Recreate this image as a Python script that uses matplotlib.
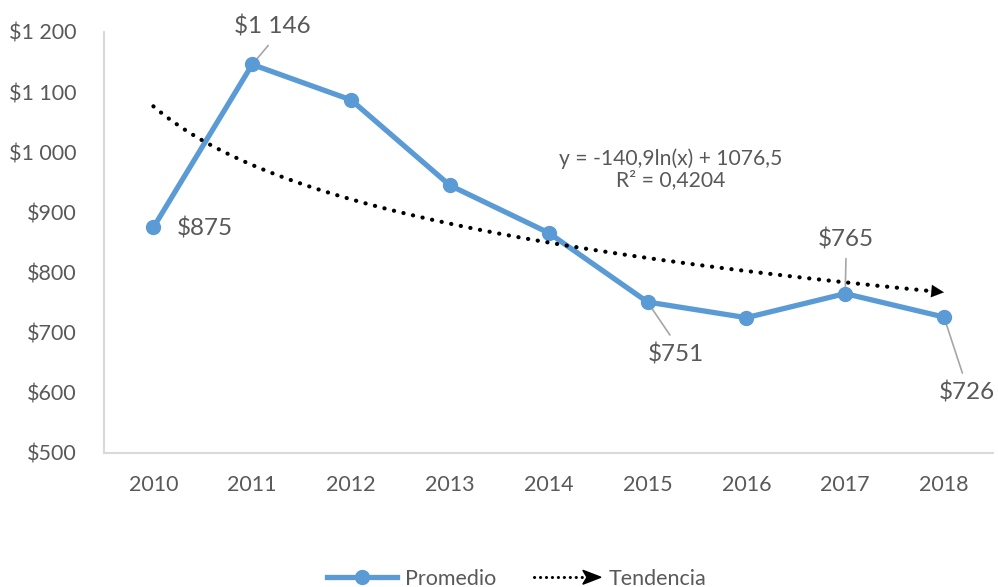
import matplotlib.pyplot as plt
import numpy as np
from matplotlib.lines import Line2D
from matplotlib.patches import Polygon
from matplotlib.legend_handler import HandlerBase

plt.rcParams['font.family'] = ['Lato', 'DejaVu Sans']

years = ['2010', '2011', '2012', '2013', '2014', '2015', '2016', '2017', '2018']
promedio = [875, 1146, 1087, 945, 866, 751, 725, 765, 726]
yticks = [500, 600, 700, 800, 900, 1000, 1100, 1200]
ytick_labels = ['$500', '$600', '$700', '$800', '$900', '$1 000', '$1 100', '$1 200']
# labelled points: index -> (text offset in px, leader line?)
labels = {0: (23, -1, False), 1: (20, 38, True), 5: (28, -52, True),
          7: (1, 54, True), 8: (23, -75, True)}

blue = '#5B9BD5'
gray = '#595959'

fig = plt.figure(figsize=(9.98, 5.87), dpi=100)
ax = fig.add_axes([0.1042, 0.2283, 0.8912, 0.7172])

x = np.arange(len(years))
ax.plot(x, promedio, color=blue, lw=3.8, marker='o', ms=10, solid_capstyle='round',
        zorder=3)

# logarithmic trend y = a ln(x) + b with x = 1..9
a, b = np.polyfit(np.log(x + 1), promedio, 1)
xt = np.linspace(0, 8, 200)
yt = a * np.log(xt + 1) + b
ax.plot(xt[:-4], yt[:-4], color='black', lw=3, linestyle=(0, (0.05, 2.3)),
        dash_capstyle='round', zorder=4)
ax.annotate('', xy=(xt[-1], yt[-1]), xytext=(xt[-6], yt[-6]),
            arrowprops=dict(arrowstyle='-|>,head_length=0.9,head_width=0.45',
                            color='black', lw=0.1, shrinkA=0, shrinkB=0), zorder=4)

ax.text(5.23, 972, 'y = -140,9ln(x) + 1076,5\nR² = 0,4204', ha='center', va='center',
        fontsize=15.2, color=gray, linespacing=1.1)

for i, (dx, dy, lead) in labels.items():
    val = promedio[i]
    txt = '$' + format(val, ',').replace(',', ' ')
    ax.annotate(txt, xy=(i, val), xytext=(dx, dy), textcoords='offset pixels',
                ha='left' if not lead else 'center', va='center', fontsize=17.5,
                color=gray, zorder=5)
    if lead:
        ex = dx * 0.8
        ey = dy - np.sign(dy) * 19
        ax.annotate('', xy=(i, val), xytext=(ex, ey), textcoords='offset pixels',
                    arrowprops=dict(arrowstyle='-', color='#A6A6A6', lw=1.2,
                                    shrinkA=0, shrinkB=0), zorder=2)

ax.set_xlim(-0.5, 8.5)
ax.set_ylim(500, 1200)
ax.set_xticks(x)
ax.set_xticklabels(years)
ax.set_yticks(yticks)
ax.set_yticklabels(ytick_labels)
ax.tick_params(length=0, labelsize=15.5, labelcolor=gray)
ax.tick_params(axis='y', pad=20)
ax.tick_params(axis='x', pad=16)
for s in ['top', 'right']:
    ax.spines[s].set_visible(False)
for s in ['left', 'bottom']:
    ax.spines[s].set_color('#D9D9D9')
    ax.spines[s].set_linewidth(1.5)


class ArrowHandler(HandlerBase):
    def create_artists(self, legend, orig_handle, xdescent, ydescent, width, height,
                       fontsize, trans):
        y = height / 2 - ydescent
        x0 = -xdescent
        x1 = width - xdescent
        line = Line2D([x0 + 2, x1 - 11], [y, y], color='black', lw=2.2,
                      linestyle=(0, (0.05, 1.9)), dash_capstyle='round', transform=trans)
        head = Polygon([[x1 - 13, y + 5], [x1, y], [x1 - 13, y - 5], [x1 - 10, y]],
                       closed=True, color='black', transform=trans)
        return [line, head]


h1 = Line2D([], [], color=blue, lw=3.8, marker='o', ms=10)
h2 = Line2D([], [], color='black')
fig.legend([h1, h2], ['Promedio', 'Tendencia'], loc='center',
           bbox_to_anchor=(0.518, 0.014), ncol=2, frameon=False, fontsize=15.5,
           labelcolor=gray, handlelength=3.25, handletextpad=0.37, columnspacing=1.6,
           handler_map={h2: ArrowHandler()})

fig.savefig('out.png', dpi=100)
